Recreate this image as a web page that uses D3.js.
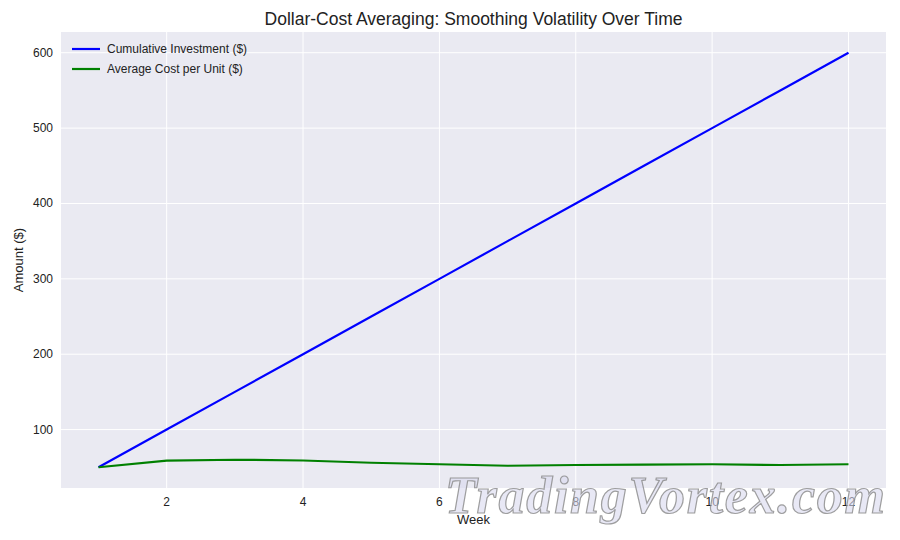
<!DOCTYPE html>
<html><head><meta charset="utf-8">
<script src="https://cdn.jsdelivr.net/npm/d3@7"></script>
<style>body{margin:0;background:#fff}text{font-family:"Liberation Sans",Arial,sans-serif}</style>
</head><body><svg id="c" width="900" height="540"></svg>
<script>
const weeks=[1,2,3,4,5,6,7,8,9,10,11,12];
const cumulative=[50,100,150,200,250,300,350,400,450,500,550,600];
const avgCost=[50,58.7,60,59,56,54,52,53,53.5,54,53,54];
const xTicks=[2,4,6,8,10,12];
const yTicks=[100,200,300,400,500,600];

const svg=d3.select("#c");
const L=61,R=886,T=32,B=488;
const x=d3.scaleLinear().domain([0.45,12.55]).range([L,R]);
const y=d3.scaleLinear().domain([22.5,627.5]).range([B,T]);
svg.append("rect").attr("x",L).attr("y",T).attr("width",R-L).attr("height",B-T).attr("fill","#eaeaf2");
svg.append("g").selectAll("line").data(xTicks).join("line").attr("x1",d=>x(d)).attr("x2",d=>x(d)).attr("y1",T).attr("y2",B).attr("stroke","#fff").attr("stroke-width",1);
svg.append("g").selectAll("line").data(yTicks).join("line").attr("y1",d=>y(d)).attr("y2",d=>y(d)).attr("x1",L).attr("x2",R).attr("stroke","#fff").attr("stroke-width",1);
svg.append("g").selectAll("text").data(xTicks).join("text").attr("x",d=>x(d)).attr("y",B+18).attr("text-anchor","middle").attr("font-size",12).attr("fill","#222").text(d=>d);
svg.append("g").selectAll("text").data(yTicks).join("text").attr("x",L-8).attr("y",d=>y(d)+4).attr("text-anchor","end").attr("font-size",12).attr("fill","#222").text(d=>d);
const line=v=>d3.line().x((d,i)=>x(weeks[i])).y(d=>y(d))(v);
svg.append("path").attr("d",line(cumulative)).attr("fill","none").attr("stroke","#0000ff").attr("stroke-width",2.2);
svg.append("path").attr("d",line(avgCost)).attr("fill","none").attr("stroke","#008000").attr("stroke-width",2.2);
svg.append("text").attr("x",(L+R)/2).attr("y",25).attr("text-anchor","middle").attr("font-size",17.5).attr("fill","#222").text("Dollar-Cost Averaging: Smoothing Volatility Over Time");
svg.append("text").attr("x",(L+R)/2).attr("y",524).attr("text-anchor","middle").attr("font-size",13).attr("fill","#222").text("Week");
svg.append("text").attr("transform",`translate(23,${(T+B)/2}) rotate(-90)`).attr("text-anchor","middle").attr("font-size",13).attr("fill","#222").text("Amount ($)");
const leg=[["Cumulative Investment ($)","#0000ff"],["Average Cost per Unit ($)","#008000"]];
leg.forEach((l,i)=>{const yy=49+i*20;
svg.append("line").attr("x1",72).attr("x2",100).attr("y1",yy).attr("y2",yy).attr("stroke",l[1]).attr("stroke-width",2.2);
svg.append("text").attr("x",107).attr("y",yy+4).attr("font-size",12).attr("fill","#222").text(l[0]);});
svg.append("text").attr("x",665).attr("y",513).attr("text-anchor","middle").style("font-family","'Liberation Serif',serif").style("font-style","italic").style("font-weight","bold").attr("font-size",52).attr("textLength",440).attr("fill","#d8d8ee").attr("fill-opacity",0.6).attr("stroke","#888").attr("stroke-width",1.2).attr("stroke-opacity",0.8).text("TradingVortex.com");
</script></body></html>
